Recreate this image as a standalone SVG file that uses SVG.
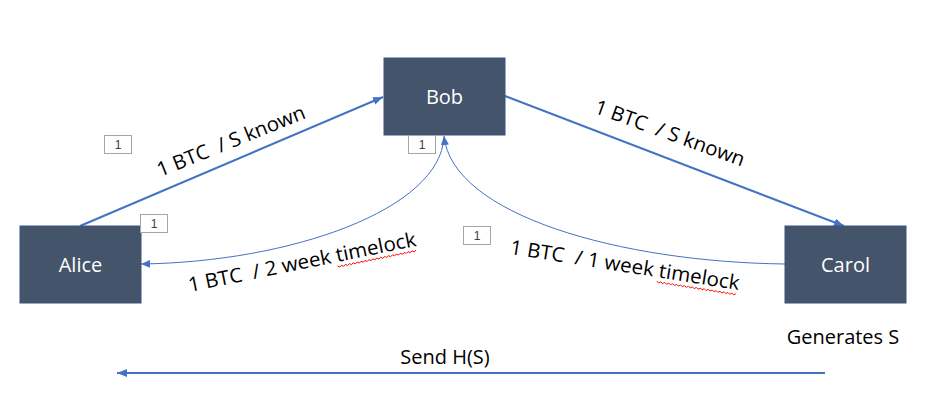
<svg xmlns="http://www.w3.org/2000/svg" width="947" height="412" viewBox="0 0 947 412">
<style>
.node rect{fill:#44546A;stroke:#3B5281;stroke-width:1}
.node text{fill:#FFFFFF;font-family:"Open Sans","Noto Sans",sans-serif;font-size:20px;text-anchor:middle}
.lbl{fill:#000000;font-family:"Open Sans","Noto Sans",sans-serif;font-size:20px;text-anchor:middle}
.thick{fill:none;stroke:#4472C4;stroke-width:2}
.thin{fill:none;stroke:#4472C4;stroke-width:1}
.tag rect{fill:#FFFFFF;stroke:#A6A6A6;stroke-width:1}
.tag text{fill:#404040;font-family:"Liberation Sans",Arial,sans-serif;font-size:12px;text-anchor:middle}
.squig{fill:none;stroke:#FF0000;stroke-width:0.9}
</style>
<defs>
<marker id="ah" markerUnits="userSpaceOnUse" markerWidth="12" markerHeight="10" refX="10" refY="4" orient="auto">
<path d="M0,0 L10,4 L0,8 Z" fill="#4472C4"/>
</marker>
<marker id="ahs" markerUnits="userSpaceOnUse" markerWidth="10" markerHeight="10" refX="9" refY="4" orient="auto">
<path d="M0,0 L9,4 L0,8 Z" fill="#4472C4"/>
</marker>
</defs>
<rect width="947" height="412" fill="#FFFFFF"/>
<g id="connectors">
<line class="thick" x1="80" y1="226" x2="383" y2="97" marker-end="url(#ah)"/>
<line class="thick" x1="505" y1="96" x2="844" y2="226" marker-end="url(#ah)"/>
<path class="thin" d="M444,137 C440,210 290,262 141,264" marker-end="url(#ahs)"/>
<path class="thin" d="M785,264 C620,262 452,215 444,136" marker-end="url(#ahs)"/>
<line class="thick" x1="825" y1="373" x2="117" y2="373" marker-end="url(#ah)"/>
</g>
<g id="node-alice" class="node">
<rect x="20" y="226" width="121" height="77"/>
<text x="80.5" y="272">Alice</text>
</g>
<g id="node-bob" class="node">
<rect x="384" y="58" width="121" height="77"/>
<text x="444.5" y="104">Bob</text>
</g>
<g id="node-carol" class="node">
<rect x="785" y="226" width="121" height="77"/>
<text x="845.5" y="272">Carol</text>
</g>
<g id="labels">
<g transform="translate(231,141) rotate(-22)">
<text class="lbl" x="0" y="7" textLength="158" lengthAdjust="spacingAndGlyphs">1 BTC&#160; / S known</text>
</g>
<g transform="translate(670,133) rotate(20)">
<text class="lbl" x="0" y="7" textLength="158" lengthAdjust="spacingAndGlyphs">1 BTC&#160; / S known</text>
</g>
<g transform="translate(302,262) rotate(-11.5)">
<text class="lbl" x="0" y="7" textLength="232" lengthAdjust="spacingAndGlyphs">1 BTC&#160; / 2 week timelock</text>
<path class="squig" d="M34,11 l2,1.5 2,-1.5 2,1.5 2,-1.5 2,1.5 2,-1.5 2,1.5 2,-1.5 2,1.5 2,-1.5 2,1.5 2,-1.5 2,1.5 2,-1.5 2,1.5 2,-1.5 2,1.5 2,-1.5 2,1.5 2,-1.5 2,1.5 2,-1.5 2,1.5 2,-1.5 2,1.5 2,-1.5 2,1.5 2,-1.5 2,1.5 2,-1.5 2,1.5 2,-1.5 2,1.5 2,-1.5 2,1.5 2,-1.5 2,1.5 2,-1.5 2,1.5 2,-1.5"/>
</g>
<g transform="translate(625,265) rotate(9)">
<text class="lbl" x="0" y="7" textLength="232" lengthAdjust="spacingAndGlyphs">1 BTC&#160; / 1 week timelock</text>
<path class="squig" d="M34,11 l2,1.5 2,-1.5 2,1.5 2,-1.5 2,1.5 2,-1.5 2,1.5 2,-1.5 2,1.5 2,-1.5 2,1.5 2,-1.5 2,1.5 2,-1.5 2,1.5 2,-1.5 2,1.5 2,-1.5 2,1.5 2,-1.5 2,1.5 2,-1.5 2,1.5 2,-1.5 2,1.5 2,-1.5 2,1.5 2,-1.5 2,1.5 2,-1.5 2,1.5 2,-1.5 2,1.5 2,-1.5 2,1.5 2,-1.5 2,1.5 2,-1.5 2,1.5 2,-1.5"/>
</g>
<text class="lbl" x="445" y="364">Send H(S)</text>
<text class="lbl" x="843" y="344">Generates S</text>
</g>
<g id="tags">
<g class="tag"><rect x="104.5" y="135.5" width="27" height="18"/><text x="118" y="149">1</text></g>
<g class="tag"><rect x="408.5" y="135.5" width="27" height="18"/><text x="422" y="149">1</text></g>
<g class="tag"><rect x="140.5" y="214.5" width="27" height="18"/><text x="154" y="228">1</text></g>
<g class="tag"><rect x="463.5" y="226.5" width="27" height="18"/><text x="477" y="240">1</text></g>
</g>
</svg>
